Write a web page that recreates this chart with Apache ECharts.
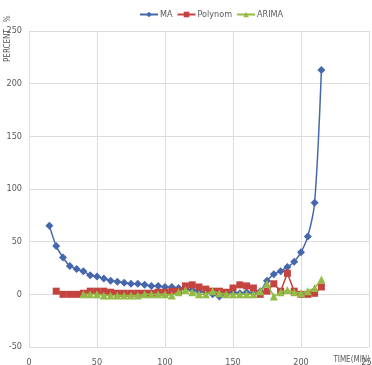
<!DOCTYPE html>
<html>
<head>
<meta charset="utf-8">
<script src="https://cdn.jsdelivr.net/npm/echarts@6/dist/echarts.min.js"></script>
<style>
  html, body { margin: 0; padding: 0; background: #ffffff; }
  #chart { width: 372px; height: 365px; }
</style>
</head>
<body>
<div id="chart"></div>
<script>
// Error percentage over time for three forecasting methods
const timesMA = [15,20,25,30,35,40,45,50,55,60,65,70,75,80,85,90,95,100,105,110,115,120,125,130,135,140,145,150,155,160,165,170,175,180,185,190,195,200,205,210,215];
const valuesMA = [65,46,35,27,24,22,18,17,15,13,12,11,10,10,9,8,8,7,7,6,5,4,3,2,0,-2,1,2,1,2,1,3,13,19,22,26,31,40,55,87,213];

const timesPolynom = [20,25,30,35,40,45,50,55,60,65,70,75,80,85,90,95,100,105,110,115,120,125,130,135,140,145,150,155,160,165,170,175,180,185,190,195,200,205,210,215];
const valuesPolynom = [3,0,0,0,1,3,3,3,2,1,1,1,1,1,1,2,2,3,3,8,9,7,5,3,3,2,6,9,8,6,0,3,10,3,20,3,0,0,1,7];

const timesARIMA = [40,45,50,55,60,65,70,75,80,85,90,95,100,105,110,115,120,125,130,135,140,145,150,155,160,165,170,175,180,185,190,195,200,205,210,215];
const valuesARIMA = [0,0,0,-1,-1,-1,-1,-1,-1,0,0,0,0,-1,2,4,2,0,0,3,1,0,0,0,0,0,3,10,-2,2,4,2,1,3,6,14];

const xTicks = { min: 0, max: 250, interval: 50 };
const yTicks = { min: -50, max: 250, interval: 50 };

const pair = (xs, ys) => xs.map((x, i) => [x, ys[i]]);

const FONT = "'Liberation Sans Narrow', 'DejaVu Sans Condensed', 'Noto Sans', sans-serif";
const gridColor = '#e2dcd8';
const textColor = '#595959';

const chart = echarts.init(document.getElementById('chart'), null, { renderer: 'canvas' });

chart.setOption({
  animation: false,
  backgroundColor: '#ffffff',
  textStyle: { fontFamily: FONT },
  legend: {
    top: 5,
    left: 134,
    itemWidth: 18,
    itemHeight: 7,
    itemGap: 4,
    textStyle: { fontFamily: FONT, fontSize: 9, color: textColor, padding: [0, 0, 0, -3] },
    data: ['MA', 'Polynom', 'ARIMA']
  },
  grid: { left: 29, right: 3, top: 31, bottom: 18, containLabel: false, outerBoundsMode: 'none' },
  xAxis: {
    type: 'value',
    min: xTicks.min, max: xTicks.max, interval: xTicks.interval,
    axisLine: { onZero: true, lineStyle: { color: gridColor } },
    axisTick: { show: false },
    axisLabel: { color: textColor, fontSize: 9, fontFamily: FONT, margin: 11 },
    splitLine: { show: true, lineStyle: { color: gridColor, width: 1 } }
  },
  yAxis: {
    type: 'value',
    min: yTicks.min, max: yTicks.max, interval: yTicks.interval,
    axisLine: { show: true, lineStyle: { color: gridColor } },
    axisTick: { show: false },
    axisLabel: { color: textColor, fontSize: 9, fontFamily: FONT, margin: 7 },
    splitLine: { show: true, lineStyle: { color: gridColor, width: 1 } }
  },
  graphic: [
    {
      type: 'text',
      x: 12,
      y: 62,
      rotation: Math.PI / 2,
      style: {
        text: 'PERCENT   %',
        fill: textColor,
        font: "8px " + FONT,
        align: 'left',
        verticalAlign: 'bottom'
      }
    },
    {
      type: 'text',
      x: 370,
      y: 364,
      style: {
        text: 'TIME(MIN)',
        fill: textColor,
        font: "8px " + FONT,
        align: 'right',
        verticalAlign: 'bottom'
      }
    }
  ],
  series: [
    {
      name: 'MA',
      type: 'line',
      data: pair(timesMA, valuesMA),
      smooth: 0.3,
      symbol: 'diamond',
      symbolSize: 8,
      itemStyle: { color: '#4467ad' },
      lineStyle: { color: '#4467ad', width: 1.5 },
      z: 3
    },
    {
      name: 'Polynom',
      type: 'line',
      data: pair(timesPolynom, valuesPolynom),
      symbol: 'rect',
      symbolSize: 7,
      itemStyle: { color: '#c4433f' },
      lineStyle: { color: '#c4433f', width: 1.5 },
      z: 4
    },
    {
      name: 'ARIMA',
      type: 'line',
      data: pair(timesARIMA, valuesARIMA),
      symbol: 'triangle',
      symbolSize: 8,
      itemStyle: { color: '#93bb45' },
      lineStyle: { color: '#93bb45', width: 1.5 },
      z: 5
    }
  ]
});
</script>
</body>
</html>
